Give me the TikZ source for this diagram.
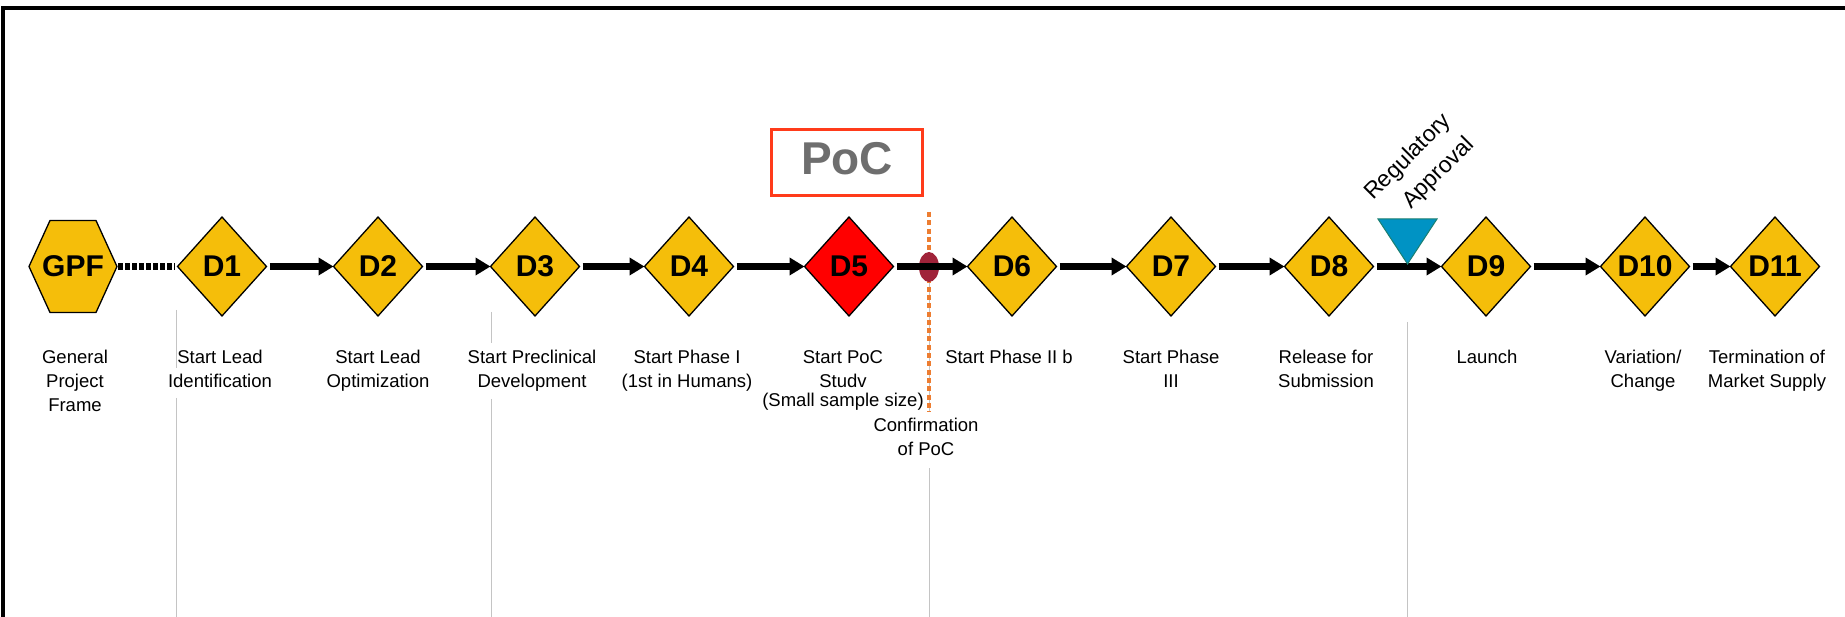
\documentclass[tikz,border=0pt]{standalone}
\usepackage{fontspec}
\setmainfont{Liberation Sans}
\usetikzlibrary{shapes.geometric,arrows.meta,calc}
\definecolor{gold}{HTML}{F5BE0A}
\definecolor{alarm}{HTML}{FF0000}
\definecolor{pocframe}{HTML}{FF3B1A}
\definecolor{pocgrey}{HTML}{6E6E6E}
\definecolor{confline}{HTML}{ED7D31}
\definecolor{confmark}{HTML}{A0233A}
\definecolor{approvefill}{HTML}{0093C4}
\definecolor{approveedge}{HTML}{1B7F70}
\definecolor{guide}{HTML}{C4C4C4}
\begin{document}
\begin{tikzpicture}[x=1pt,y=-1pt,
  milestone/.style={shape=diamond, draw=black, line width=1.3pt, fill=gold,
    minimum width=89pt, minimum height=99pt, inner sep=0pt, outer sep=0pt,
    font=\fontsize{30}{30}\selectfont\bfseries},
  flow/.style={line width=6.5pt, -{Triangle[length=15pt,width=17pt]}, shorten <=3pt},
  caption/.style={font=\fontsize{18.5}{24}\selectfont, align=center, anchor=north, inner sep=0pt},
  guideline/.style={draw=guide, line width=1pt}
]
\fill[white] (0,0) rectangle (1845,617);
\useasboundingbox (0,0) rectangle (1845,617);

% outer frame (left and top edges)
\draw[line width=4pt] (3,617) -- (3,8.5) -- (1845,8.5);

% thin vertical guide lines
\draw[guideline] (176,310) -- (176,368);
\draw[guideline] (176,398) -- (176,617);
\draw[guideline] (491,312) -- (491,343);
\draw[guideline] (491,399) -- (491,617);
\draw[guideline] (929,282) -- (929,412);
\draw[guideline] (929,468) -- (929,617);
\draw[guideline] (1407.5,322) -- (1407.5,617);

% confirmation of PoC marker
\coordinate (conftop) at (929,212);
\coordinate (confbot) at (929,412);
\draw[confline, line width=4pt, dash pattern=on 5pt off 3.3pt] (conftop) -- (confbot);
\node[shape=ellipse, fill=confmark, minimum width=20pt, minimum height=30pt, inner sep=0pt] (confmark) at (929,267) {};

% general project frame (stretched hexagon)
\node[minimum width=88pt, minimum height=92pt, inner sep=0pt, outer sep=0pt] (gpf) at (73,266.5) {};
\filldraw[fill=gold, draw=black, line width=1.3pt]
  (gpf.west) -- ($(gpf.north west)+(21,0)$) -- ($(gpf.north east)+(-21,0)$) -- (gpf.east)
  -- ($(gpf.south east)+(-21,0)$) -- ($(gpf.south west)+(21,0)$) -- cycle;
\node[font=\fontsize{30}{30}\selectfont\bfseries, inner sep=0pt] (gpftext) at (gpf.center) {GPF};

% milestones
\node[milestone] (d1) at (222,266.5) {D1};
\node[milestone] (d2) at (378,266.5) {D2};
\node[milestone] (d3) at (535,266.5) {D3};
\node[milestone] (d4) at (689,266.5) {D4};
\node[milestone, fill=alarm] (d5) at (849,266.5) {D5};
\node[milestone] (d6) at (1012,266.5) {D6};
\node[milestone] (d7) at (1171,266.5) {D7};
\node[milestone] (d8) at (1329,266.5) {D8};
\node[milestone] (d9) at (1486,266.5) {D9};
\node[milestone] (d10) at (1645,266.5) {D10};
\node[milestone] (d11) at (1775,266.5) {D11};

% connectors
\draw[line width=6.5pt, dash pattern=on 4.5pt off 2.5pt, shorten <=1pt, shorten >=3pt] (gpf.east) -- (d1.west);
\draw[flow] (d1.east) -- (d2.west);
\draw[flow] (d2.east) -- (d3.west);
\draw[flow] (d3.east) -- (d4.west);
\draw[flow] (d4.east) -- (d5.west);
\draw[flow] (d5.east) -- (d6.west);
\draw[flow] (d6.east) -- (d7.west);
\draw[flow] (d7.east) -- (d8.west);
\draw[flow] (d8.east) -- (d9.west);
\draw[flow] (d9.east) -- (d10.west);
\draw[flow] (d10.east) -- (d11.west);

% regulatory approval marker
\filldraw[fill=approvefill, draw=approveedge, line width=1pt] (1378,219) -- (1437,219) -- (1407.5,264) -- cycle;
\node[rotate=45, font=\fontsize{23}{33}\selectfont, align=right, inner sep=0pt] (approval) at (1420,169) {Regulatory\\Approval};

% PoC heading
\node[draw=pocframe, line width=3pt, minimum width=151pt, minimum height=66pt, inner sep=0pt,
  text=pocgrey, text depth=9pt, font=\fontsize{46}{46}\selectfont\bfseries] (pocbox) at (847,162.5) {PoC};

% captions
\node[caption] (c0) at (75,350) {General\\Project\\Frame};
\node[caption] (c1) at (220,350) {Start Lead\\Identification};
\node[caption] (c2) at (378,350) {Start Lead\\Optimization};
\node[caption] (c3) at (532,350) {Start Preclinical\\Development};
\node[caption] (c4) at (687,350) {Start Phase I\\(1st in Humans)};
\node[caption] (c5) at (843,350) {Start PoC\\Studv\\[-5pt](Small sample size)};
\node[caption] (c6) at (1009,350) {Start Phase II b};
\node[caption] (c7) at (1171,350) {Start Phase\\III};
\node[caption] (c8) at (1326,350) {Release for\\Submission};
\node[caption] (c9) at (1487,350) {Launch};
\node[caption] (c10) at (1643,350) {Variation/\\Change};
\node[caption] (c11) at (1767,350) {Termination of\\Market Supply};
\node[caption] (cconf) at (926,418) {Confirmation\\of PoC};
\end{tikzpicture}
\end{document}
